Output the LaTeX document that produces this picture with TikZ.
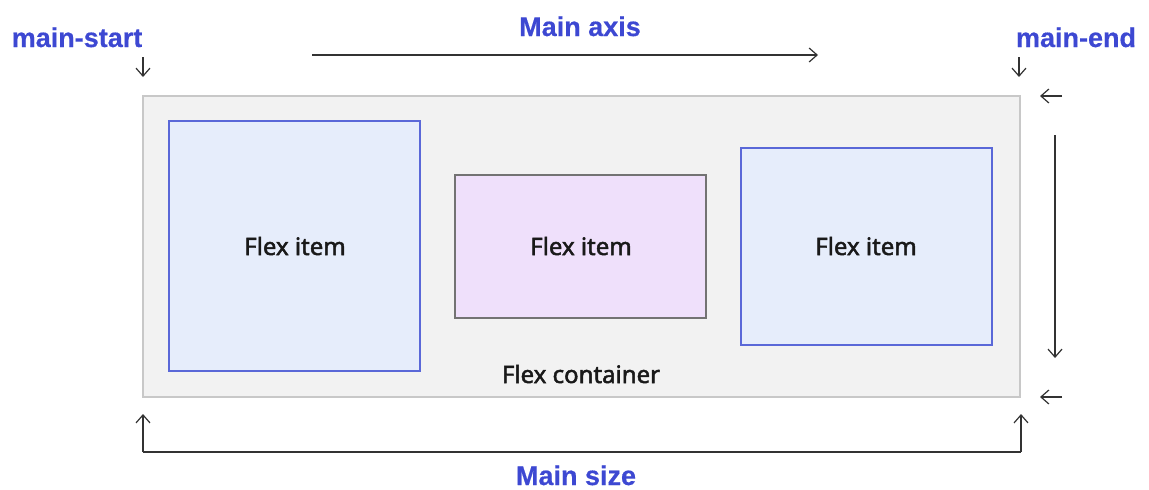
\documentclass[tikz,border=0pt]{standalone}
\usepackage{fontspec}
\setmainfont{Noto Sans}
\newfontfamily\medfont[FakeBold=2]{Noto Sans}
\newfontfamily\lblfont[FakeBold=0.5]{Liberation Sans Bold}
\usetikzlibrary{arrows.meta}
\definecolor{lblblue}{HTML}{3D48D2}
\definecolor{contfill}{HTML}{F2F2F2}
\definecolor{contline}{HTML}{C8C8C8}
\definecolor{itemblue}{HTML}{E6EDFB}
\definecolor{itemline}{HTML}{5A68D8}
\definecolor{itemlilac}{HTML}{EFE0FB}
\definecolor{arrowgray}{HTML}{333333}
\tikzset{
	lbl/.style={text=lblblue,inner sep=0pt,font=\lblfont\fontsize{13.5}{15}\selectfont},
	txt/.style={text=black!90,font=\medfont\fontsize{12}{14}\selectfont},
	arr/.style={draw=arrowgray,line width=.6pt,-{Straight Barb[length=4pt,width=7pt]}}
}
\begin{document}
\begin{tikzpicture}[x=0.5pt,y=-0.5pt]
		\useasboundingbox (0,0) rectangle (1149,489);
		% container and items
		\draw[contline,fill=contfill,line width=.6pt] (143,96) rectangle (1020,397);
		\draw[itemline,fill=itemblue,line width=.7pt] (169,121) rectangle (420,371);
		\draw[black!55,fill=itemlilac,line width=.7pt] (455,175) rectangle (706,318);
		\draw[itemline,fill=itemblue,line width=.7pt] (741,148) rectangle (992,345);
		\node[txt] (item1) at (295,246) {Flex item};
		\node[txt] (item2) at (581,246) {Flex item};
		\node[txt] (item3) at (866,246) {Flex item};
		\node[txt] (cont) at (581,374) {Flex container};
		% labels
		\node[lbl,anchor=base] (start) at (77,47) {main-start};
		\node[lbl,anchor=base] (end) at (1076,47) {main-end};
		\node[lbl,anchor=base] (axis) at (580,36) {Main axis};
		\node[lbl,anchor=base] (size) at (576,485) {Main size};
		\coordinate (sa) at (143,57); \coordinate (sb) at (143,77);
		\coordinate (ea) at (1019,57); \coordinate (eb) at (1019,77);
		\coordinate (xa) at (312,55); \coordinate (xb) at (818,55);
		\coordinate (ta) at (1062,96); \coordinate (tb) at (1040,96);
		\coordinate (ba) at (1062,397); \coordinate (bb) at (1040,397);
		\coordinate (va) at (1055,135); \coordinate (vb) at (1055,358);
		\coordinate (la) at (143,452); \coordinate (lb) at (143,414);
		\coordinate (ra) at (1021,452); \coordinate (rb) at (1021,414);
		% arrows
		\draw[arr] (xa) -- (xb);
		\draw[arr] (sa) -- (sb);
		\draw[arr] (ea) -- (eb);
		\draw[arr] (ta) -- (tb);
		\draw[arr] (ba) -- (bb);
		\draw[arr] (va) -- (vb);
		\draw[arr] (la) -- (lb);
		\draw[arr] (ra) -- (rb);
		\draw[arrowgray,line width=.6pt] (la) -- (ra);
	\end{tikzpicture}
\end{document}
